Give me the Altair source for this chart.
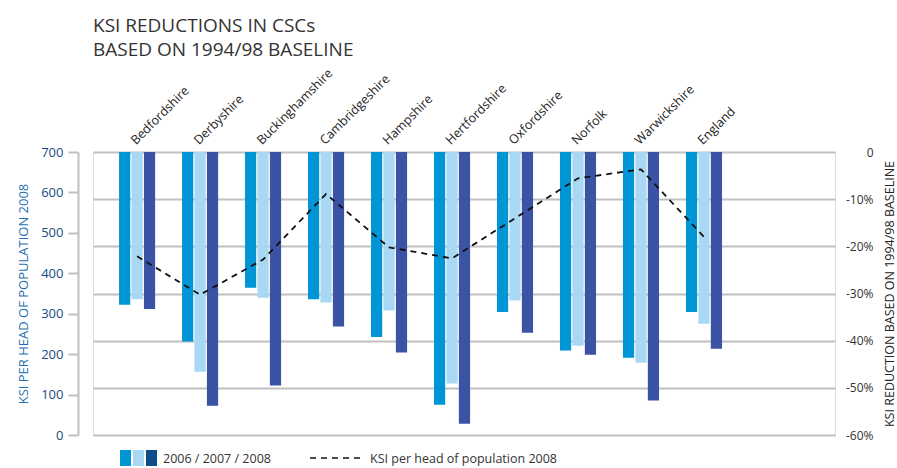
import altair as alt
import pandas as pd

counties = ["Bedfordshire", "Derbyshire", "Buckinghamshire", "Cambridgeshire", "Hampshire",
            "Hertfordshire", "Oxfordshire", "Norfolk", "Warwickshire", "England"]
years = ["2006", "2007", "2008"]
red_2006 = [-32.4, -40.2, -28.8, -31.2, -39.2, -53.6, -33.9, -42.1, -43.6, -33.9]
red_2007 = [-31.2, -46.6, -30.9, -31.9, -33.6, -49.1, -31.5, -41.1, -44.7, -36.4]
red_2008 = [-33.3, -53.8, -49.5, -37.0, -42.5, -57.6, -38.3, -43.0, -52.7, -41.7]
ksi_2008 = [442, 347, 434, 596, 464, 437, 536, 635, 657, 490]
bar_colors = ["#0096d6", "#a8d8f3", "#3a53a4"]
left_ticks = [0, 100, 200, 300, 400, 500, 600, 700]
right_ticks = [-60, -50, -40, -30, -20, -10, 0]

rows = []
for yr, vals in zip(years, [red_2006, red_2007, red_2008]):
    for c, v in zip(counties, vals):
        rows.append({"county": c, "year": yr, "reduction": v})
bars_df = pd.DataFrame(rows)
line_df = pd.DataFrame({"county": counties, "ksi": ksi_2008})

FONT = "Open Sans"
GRID = "#c0c0c0"

xscale = alt.Scale(domain=counties, paddingInner=0.22, paddingOuter=1, align=0.155)
xaxis = alt.Axis(orient="top", title=None, labelAngle=315, labelAlign="left",
                 labelBaseline="middle", domain=False, ticks=False, labelPadding=10,
                 labelOffset=-4, labelFontSize=12.5, labelColor="#222", labelFont=FONT,
                 grid=False)

bars = alt.Chart(bars_df).mark_bar().encode(
    x=alt.X("county:N", scale=xscale, sort=counties, axis=xaxis),
    xOffset=alt.XOffset("year:N", scale=alt.Scale(domain=years, paddingInner=0.1,
                                                  paddingOuter=0.525)),
    y=alt.Y("reduction:Q", scale=alt.Scale(domain=[-60, 0], nice=False),
            axis=alt.Axis(orient="right", values=right_ticks,
                          labelExpr="datum.value == 0 ? '0' : datum.value + '%'",
                          domain=False, ticks=False, labelAlign="right", labelPadding=38,
                          labelFontSize=12, labelColor="#333", labelFont=FONT,
                          grid=True, gridColor=GRID, gridWidth=2,
                          title="KSI REDUCTION BASED ON 1994/98 BASELINE", titleAngle=270,
                          titleFontSize=12.5, titleFontWeight="normal", titleColor="#222",
                          titleFont=FONT, titlePadding=23)),
    color=alt.Color("year:N", scale=alt.Scale(domain=years, range=bar_colors), legend=None),
)

line = alt.Chart(line_df).mark_line(color="#111", strokeDash=[6, 5], strokeWidth=1.8).encode(
    x=alt.X("county:N", scale=xscale, sort=counties, axis=xaxis),
    y=alt.Y("ksi:Q", scale=alt.Scale(domain=[0, 700], nice=False),
            axis=alt.Axis(orient="left", values=left_ticks, offset=15,
                          domainColor=GRID, domainWidth=2, tickColor=GRID, tickWidth=2,
                          tickSize=10, labelColor="#174a80", labelFontSize=13, labelFont=FONT,
                          labelPadding=5, grid=False,
                          title="KSI PER HEAD OF POPULATION 2008", titleFontSize=13,
                          titleFontWeight="normal", titleColor="#1f6fb2", titleFont=FONT,
                          titlePadding=10)),
)

one = pd.DataFrame({"k": [0]})
legend_colors = ["#0096d6", "#a8d8f3", "#0d4e8a"]
lx = [27, 40, 53]
leg = []
for x0, col in zip(lx, legend_colors):
    leg.append(alt.Chart(one).mark_rect(color=col).encode(
        x=alt.value(x0), x2=alt.value(x0 + 11), y=alt.value(298), y2=alt.value(314)))
leg.append(alt.Chart(one).mark_text(text="2006 / 2007 / 2008", align="left", baseline="middle",
                                    fontSize=12.5, font=FONT, color="#333").encode(
    x=alt.value(70), y=alt.value(307)))
leg.append(alt.Chart(one).mark_rule(color="#111", strokeDash=[6, 5], strokeWidth=1.5).encode(
    x=alt.value(217), x2=alt.value(268), y=alt.value(306)))
leg.append(alt.Chart(one).mark_text(text="KSI per head of population 2008", align="left",
                                    baseline="middle", fontSize=12.5, font=FONT,
                                    color="#333").encode(
    x=alt.value(277), y=alt.value(307)))

chart = alt.layer(bars, line, *leg).resolve_scale(y="independent").properties(
    width=742, height=283,
    autosize=alt.AutoSizeParams(type="none"),
    padding={"left": 93, "top": 152, "right": 62, "bottom": 33},
    title=alt.TitleParams(text=["KSI REDUCTIONS IN CSCs", "BASED ON 1994/98 BASELINE"],
                          anchor="start", frame="group", fontSize=19, font=FONT,
                          fontWeight="normal", color="#333", lineHeight=24, offset=6),
).configure_view(stroke=GRID, strokeWidth=2).configure(font=FONT)

chart.save("out.html", embed_options={"renderer": "svg", "actions": False})
